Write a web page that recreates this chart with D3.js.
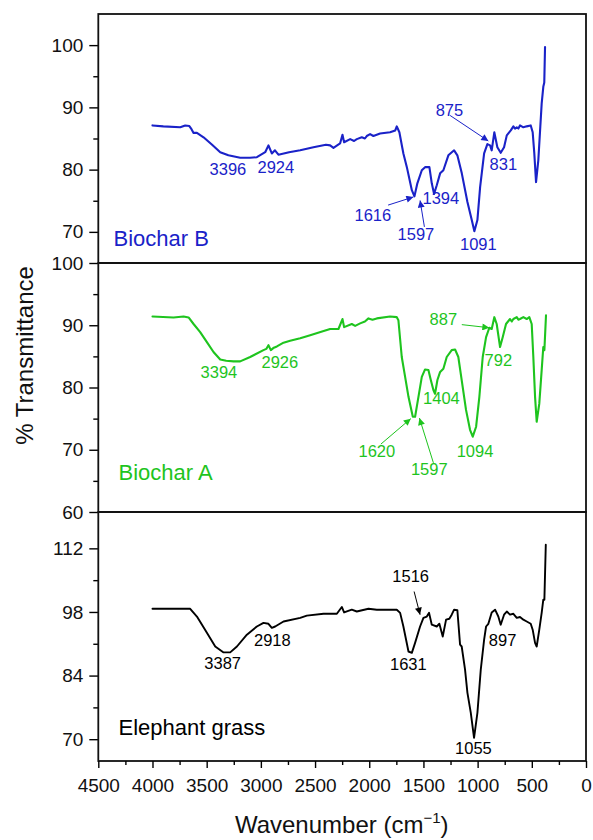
<!DOCTYPE html>
<html>
<head>
<meta charset="utf-8">
<script src="https://cdn.jsdelivr.net/npm/d3@7"></script>
<style>
  html, body { margin: 0; padding: 0; background: #fff; }
  svg { display: block; }
  text { font-family: "Liberation Sans", Arial, sans-serif; }
</style>
</head>
<body>
<svg id="chart" width="593" height="840"></svg>
<script>
// ---------------- DATA ----------------
const xTicksMajor = [4500, 4000, 3500, 3000, 2500, 2000, 1500, 1000, 500, 0];
const xTicksMinor = [4250, 3750, 3250, 2750, 2250, 1750, 1250, 750, 250];

// Biochar B  [wavenumber, %T]
const biocharB = [
  [4000,87.1],[3900,86.95],[3744,86.8],[3698,87.1],[3660,87.0],[3640,86.5],[3621,85.9],[3590,85.9],
  [3529,85.2],[3450,84.0],[3375,82.8],[3300,82.3],[3191,81.9],[3100,81.9],[3037,82.0],[2960,82.8],
  [2930,83.9],[2899,82.6],[2870,83.1],[2838,82.4],[2740,82.8],[2637,83.1],[2515,83.6],[2400,84.0],
  [2361,83.9],[2330,83.5],[2269,84.2],[2247,85.6],[2232,84.4],[2176,84.9],[2140,84.6],[2115,84.9],
  [2069,85.2],[2040,85.0],[2023,85.4],[1992,85.7],[1962,85.4],[1900,85.8],[1808,86.0],[1760,86.3],
  [1746,86.95],[1722,86.0],[1685,82.6],[1653,80.4],[1607,76.7],[1583,75.7],[1556,77.8],[1515,79.9],
  [1485,80.4],[1445,80.4],[1423,77.8],[1402,76.1],[1377,77.5],[1346,79.4],[1316,79.9],[1270,82.3],
  [1217,83.1],[1187,82.3],[1146,79.4],[1094,74.8],[1054,71.9],[1030,70.1],[1002,71.9],[977,77.2],
  [940,82.6],[910,84.1],[885,83.9],[870,83.1],[846,86.0],[818,83.6],[787,82.7],[756,83.6],
  [731,85.5],[694,86.3],[670,86.95],[655,86.6],[639,86.8],[624,86.6],[609,87.1],[578,86.8],
  [547,86.95],[510,87.1],[492,86.0],[477,82.6],[461,78.0],[440,81.5],[409,90.6],[394,93.3],
  [385,94.0],[378,99.7]
];

// Biochar A  [wavenumber, %T]
const biocharA = [
  [4000,91.4],[3806,91.25],[3713,91.4],[3667,91.25],[3621,90.2],[3560,88.9],[3498,87.3],[3437,85.7],
  [3375,84.5],[3320,84.3],[3252,84.2],[3191,84.2],[3099,84.9],[2976,86.0],[2950,86.2],[2930,86.8],
  [2908,86.0],[2880,86.4],[2852,86.6],[2791,87.2],[2730,87.5],[2637,87.9],[2545,88.4],[2450,88.9],
  [2361,89.4],[2284,89.4],[2247,91.0],[2232,89.7],[2161,90.2],[2130,89.9],[2084,90.3],[2040,90.6],
  [2007,91.1],[1970,90.9],[1930,91.1],[1808,91.4],[1746,91.3],[1731,90.8],[1700,84.9],[1669,81.7],
  [1638,78.5],[1598,75.3],[1577,75.3],[1546,78.5],[1515,81.7],[1485,82.9],[1454,82.8],[1432,81.2],
  [1408,79.6],[1393,79.0],[1371,81.2],[1346,82.5],[1316,83.0],[1285,84.9],[1239,86.0],[1208,86.1],
  [1178,84.9],[1147,81.2],[1107,76.4],[1070,73.2],[1045,72.1],[1014,73.7],[984,78.5],[953,84.9],
  [922,88.1],[892,89.6],[870,89.4],[846,91.3],[824,90.2],[793,86.5],[768,88.1],[738,90.2],
  [701,91.0],[685,90.6],[670,91.0],[639,91.3],[624,90.9],[609,91.0],[578,91.3],[547,91.0],
  [523,91.3],[501,90.2],[486,84.9],[470,78.5],[455,74.5],[431,77.4],[409,82.8],[394,86.5],
  [384,86.0],[369,91.6]
];

// Elephant grass  [wavenumber, %T]
const elephantGrass = [
  [4000,98.7],[3652,98.7],[3590,97.0],[3498,93.4],[3421,90.4],[3344,89.1],[3283,89.1],[3221,90.4],
  [3129,93.0],[3037,94.8],[2976,95.6],[2930,95.4],[2899,94.5],[2868,94.8],[2791,95.9],[2637,96.7],
  [2576,97.2],[2422,97.6],[2299,97.6],[2253,99.1],[2232,97.9],[2161,98.5],[2115,98.1],[2007,98.7],
  [1930,98.5],[1746,98.5],[1715,97.8],[1685,94.8],[1638,89.3],[1607,89.0],[1577,91.2],[1531,94.8],
  [1500,96.7],[1469,97.0],[1448,97.8],[1423,95.2],[1377,94.8],[1353,95.4],[1322,92.6],[1291,96.3],
  [1261,96.5],[1239,97.4],[1217,98.5],[1187,98.4],[1162,90.8],[1147,90.4],[1116,85.3],[1094,80.2],
  [1063,75.8],[1033,70.3],[1002,75.8],[971,85.3],[940,91.9],[922,94.8],[901,95.4],[870,97.9],
  [839,98.5],[809,97.0],[787,95.2],[756,97.4],[731,98.1],[701,97.4],[670,97.6],[639,96.7],
  [609,96.9],[578,96.3],[547,95.9],[510,95.4],[492,94.1],[470,91.2],[455,90.4],[431,94.1],
  [409,97.8],[394,100.7],[384,100.7],[371,112.8]
];

// y-axis ranges and ticks
const yDomainB = [65, 105], yMajorB = [70, 80, 90, 100], yMinorB = [75, 85, 95];
const yDomainA = [60, 100], yMajorA = [60, 70, 80, 90, 100], yMinorA = [65, 75, 85, 95];
const yDomainE = [65.2, 120], yMajorE = [70, 84, 98, 112], yMinorE = [77, 91, 105];

// peak annotations: label, text anchor [wn, %T], optional arrow from/to [wn, %T]
const peaksB = [
  {t:"3396", at:[3304,79.1]},
  {t:"2924", at:[2862,79.4]},
  {t:"1616", at:[1967,71.7], from:[1826,74.3], to:[1593,75.6]},
  {t:"1597", at:[1569,68.65], from:[1491,70.8], to:[1531,75.05]},
  {t:"1394", at:[1339,74.5]},
  {t:"1091", at:[993,67.1]},
  {t:"875",  at:[1260,88.6], from:[1254,88.7], to:[901,84.6]},
  {t:"831",  at:[763,79.9]}
];
const peaksA = [
  {t:"3394", at:[3387,81.6]},
  {t:"2926", at:[2825,83.2]},
  {t:"1620", at:[1930,68.9], from:[1893,70.9], to:[1617,75.0]},
  {t:"1597", at:[1446,65.9], from:[1408,67.9], to:[1537,75.1]},
  {t:"1404", at:[1334,77.3]},
  {t:"1094", at:[1024,68.9]},
  {t:"887",  at:[1316,90.1], from:[1146,90.1], to:[892,89.6]},
  {t:"792",  at:[809,83.4]}
];
const peaksE = [
  {t:"3387", at:[3352,85.5]},
  {t:"2918", at:[2894,90.45]},
  {t:"1516", at:[1618,104.55], from:[1586,102.5], to:[1531,97.4]},
  {t:"1631", at:[1639,85.3]},
  {t:"1055", at:[1039,66.7]},
  {t:"897",  at:[770,90.6]}
];

const sampleNames = ["Biochar B", "Biochar A", "Elephant grass"];
const nameAnchors = [[4360,67.8],[4313,65.2],[4313,70.94]];

// ---------------- LAYOUT ----------------
const svg = d3.select("#chart");
const left = 98.3, right = 586;
const panelTops = [14, 263, 512];
const panelH = 249;
const colors = ["#1a22c8", "#1ec41e", "#000000"];
const lineW = [2.1, 2.1, 1.9];

const x = d3.scaleLinear().domain([4500, 0]).range([left, right]);

const panels = [
  {data: biocharB, dom: yDomainB, maj: yMajorB, min: yMinorB, peaks: peaksB},
  {data: biocharA, dom: yDomainA, maj: yMajorA, min: yMinorA, peaks: peaksA},
  {data: elephantGrass, dom: yDomainE, maj: yMajorE, min: yMinorE, peaks: peaksE}
];

const defs = svg.append("defs");
colors.forEach((c, i) => {
  defs.append("marker")
    .attr("id", "arr" + i)
    .attr("viewBox", "0 0 10 10")
    .attr("refX", 10).attr("refY", 5)
    .attr("markerWidth", 10).attr("markerHeight", 7)
    .attr("markerUnits", "userSpaceOnUse")
    .attr("orient", "auto")
    .append("path").attr("d", "M0,0 L10,5 L0,10 Z").attr("fill", c);
});

const fontTick = 19;

panels.forEach((p, i) => {
  const top = panelTops[i], bot = top + panelH;
  const y = d3.scaleLinear().domain(p.dom).range([bot, top]);
  const g = svg.append("g");

  // minor y ticks
  g.append("g").attr("transform", `translate(${left},0)`)
    .call(d3.axisLeft(y).tickValues(p.min).tickSize(5).tickFormat(""))
    .call(a => a.select(".domain").remove())
    .call(a => a.selectAll("line").attr("stroke", "#000").attr("stroke-width", 1.4));
  // major y ticks
  g.append("g").attr("transform", `translate(${left},0)`)
    .call(d3.axisLeft(y).tickValues(p.maj).tickSize(9).tickPadding(6).tickFormat(d3.format("d")))
    .call(a => a.select(".domain").remove())
    .call(a => a.selectAll("line").attr("stroke", "#000").attr("stroke-width", 1.4))
    .call(a => a.selectAll("text").attr("font-size", fontTick).attr("fill", "#111")
      .attr("font-family", "'Liberation Sans', Arial, sans-serif"));

  // spectrum
  const line = d3.line().x(d => x(d[0])).y(d => y(d[1]));
  g.append("path").datum(p.data)
    .attr("d", line).attr("fill", "none")
    .attr("stroke", colors[i]).attr("stroke-width", lineW[i])
    .attr("stroke-linejoin", "round").attr("stroke-linecap", "round");

  // annotations
  p.peaks.forEach(pk => {
    g.append("text")
      .attr("x", x(pk.at[0])).attr("y", y(pk.at[1]))
      .attr("text-anchor", "middle").attr("font-size", 16.5)
      .attr("fill", colors[i]).text(pk.t);
    if (pk.from) {
      g.append("line")
        .attr("x1", x(pk.from[0])).attr("y1", y(pk.from[1]))
        .attr("x2", x(pk.to[0])).attr("y2", y(pk.to[1]))
        .attr("stroke", colors[i]).attr("stroke-width", 1)
        .attr("marker-end", `url(#arr${i})`);
    }
  });

  // sample name
  g.append("text")
    .attr("x", x(nameAnchors[i][0])).attr("y", y(nameAnchors[i][1]))
    .attr("font-size", 22).attr("fill", colors[i]).text(sampleNames[i]);

  // frame
  g.append("rect").attr("x", left).attr("y", top)
    .attr("width", right - left).attr("height", panelH)
    .attr("fill", "none").attr("stroke", "#111").attr("stroke-width", 1.8);
});

// x axis on bottom panel
const xBase = panelTops[2] + panelH;
svg.append("g").attr("transform", `translate(0,${xBase})`)
  .call(d3.axisBottom(x).tickValues(xTicksMinor).tickSize(4).tickFormat(""))
  .call(a => a.select(".domain").remove())
  .call(a => a.selectAll("line").attr("stroke", "#000").attr("stroke-width", 1.4));
svg.append("g").attr("transform", `translate(0,${xBase})`)
  .call(d3.axisBottom(x).tickValues(xTicksMajor).tickSize(7).tickPadding(11).tickFormat(d3.format("d")))
  .call(a => a.select(".domain").remove())
  .call(a => a.selectAll("line").attr("stroke", "#000").attr("stroke-width", 1.4))
  .call(a => a.selectAll("text").attr("font-size", fontTick).attr("fill", "#111")
    .attr("font-family", "'Liberation Sans', Arial, sans-serif"));

// axis titles
const xt = svg.append("text").attr("x", 341.7).attr("y", 833)
  .attr("text-anchor", "middle").attr("font-size", 24).attr("fill", "#111");
xt.append("tspan").text("Wavenumber (cm");
xt.append("tspan").attr("font-size", 15).attr("dy", -10).text("−1");
xt.append("tspan").attr("dy", 10).text(")");

svg.append("text")
  .attr("transform", "translate(33,355.5) rotate(-90)")
  .attr("text-anchor", "middle").attr("font-size", 24).attr("fill", "#111")
  .text("% Transmittance");
</script>
</body>
</html>
